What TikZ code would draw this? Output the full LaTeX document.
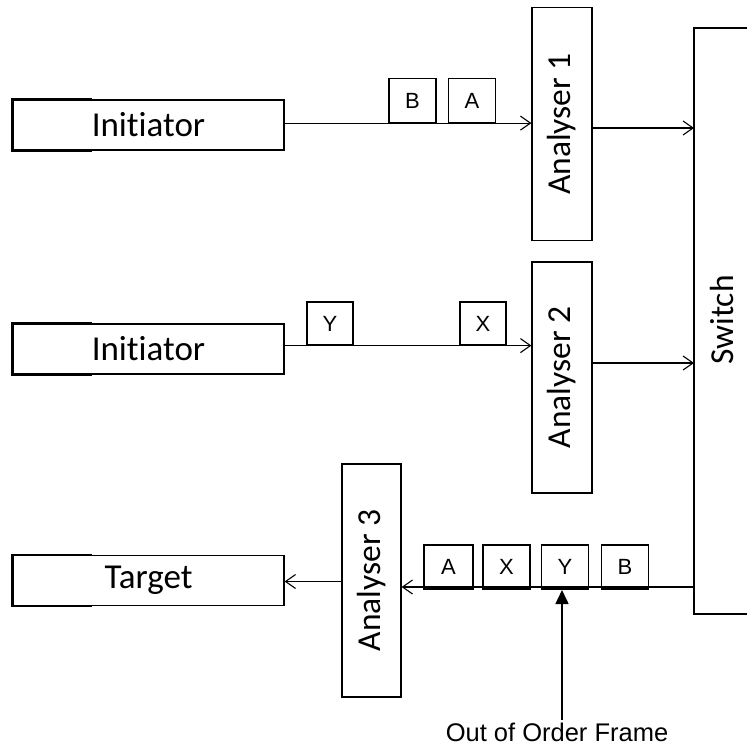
\documentclass[tikz,border=0pt]{standalone}
\usepackage{fontspec}
\setmainfont[Ligatures={NoCommon}]{Carlito}
\newfontfamily\arialf{Liberation Sans}
\usetikzlibrary{arrows.meta}
\tikzset{
  blk/.style={draw, line width=1.2pt, minimum width=271pt, minimum height=50pt, inner sep=0pt, font=\fontsize{35}{40}\selectfont},
  anl/.style={draw, line width=1.2pt, minimum width=60pt, minimum height=233pt, inner sep=0pt},
  anltext/.style={rotate=90, font=\fontsize{33.5}{38}\selectfont},
  frm/.style={draw, line width=1.2pt, minimum width=47pt, minimum height=44pt, inner sep=0pt, font=\arialf\fontsize{22}{26}\selectfont},
  conn/.style={line width=1.1pt, -{Straight Barb[length=10pt,width=14pt,line width=1.1pt]}},
  bigarr/.style={line width=1.6pt, -{Triangle[length=14pt,width=13pt]}}
}
\begin{document}
\begin{tikzpicture}[x=1pt,y=-1pt]
\useasboundingbox (0,0) rectangle (747,749);
% blocks
\node[blk] (i1) at (148.5,125) {Initiator};
\node[blk] (i2) at (148.5,349) {Initiator};
\node[blk] (tg) at (148.5,580.5) {Target};
\foreach \n in {i1,i2,tg}{
  \draw[line width=2.6pt] ([xshift=80pt]\n.north west) -- (\n.north west) -- (\n.south west) -- ([xshift=80pt]\n.south west);
}
% analysers
\node[anl] (a1) at (562,124) {};
\node[anltext] at (a1) {Analyser 1};
\node[anl, minimum height=231pt] (a2) at (562,377.5) {};
\node[anltext] at (a2) {Analyser 2};
\node[anl, minimum width=59pt] (a3) at (371.5,580.5) {};
\node[anltext] at (a3) {Analyser 3};
% switch
\coordinate (swtl) at (694,28);
\coordinate (swbl) at (694,614);
\draw[line width=1.4pt] (747,28) -- (swtl) -- (swbl) -- (747,614);
\node[anltext] (sw) at (722,320) {Switch};
% frames row 1
\node[frm] (fb1) at (412.5,100.5) {B};
\node[frm] (fa1) at (472,100.5) {A};
% frames row 2
\node[frm, minimum width=46pt, minimum height=43pt] (fy2) at (330,323.5) {Y};
\node[frm, minimum width=46pt, minimum height=43pt] (fx2) at (483,323.5) {X};
% frames row 3
\node[frm, minimum width=49pt] (fa3) at (448.5,567) {A};
\node[frm] (fx3) at (506.5,567) {X};
\node[frm] (fy3) at (565,567) {Y};
\node[frm] (fb3) at (625,567) {B};
% connectors
\coordinate (s1) at (694,128);
\coordinate (s2) at (694,363);
\coordinate (s3) at (694,587);
\draw[conn] (i1.east |- fa1.south) -- (a1.west |- fa1.south);
\draw[conn] (a1.east |- s1) -- (s1);
\draw[conn] (i2.east |- fx2.south) -- (a2.west |- fx2.south);
\draw[conn] (a2.east |- s2) -- (s2);
\draw[conn] (s3) -- (a3.east |- s3);
\draw[line width=2.6pt] (s3) -- ++(-27,0);
\draw[conn] (a3.west |- 0,581.5) -- (tg.east |- 0,581.5);
% out of order
\node[font=\arialf\fontsize{25.5}{30}\selectfont, inner sep=2pt] (ooo) at (557,732) {Out of Order Frame};
\draw[bigarr] (ooo.north -| 562,0) -- (562,590);
\end{tikzpicture}
\end{document}
